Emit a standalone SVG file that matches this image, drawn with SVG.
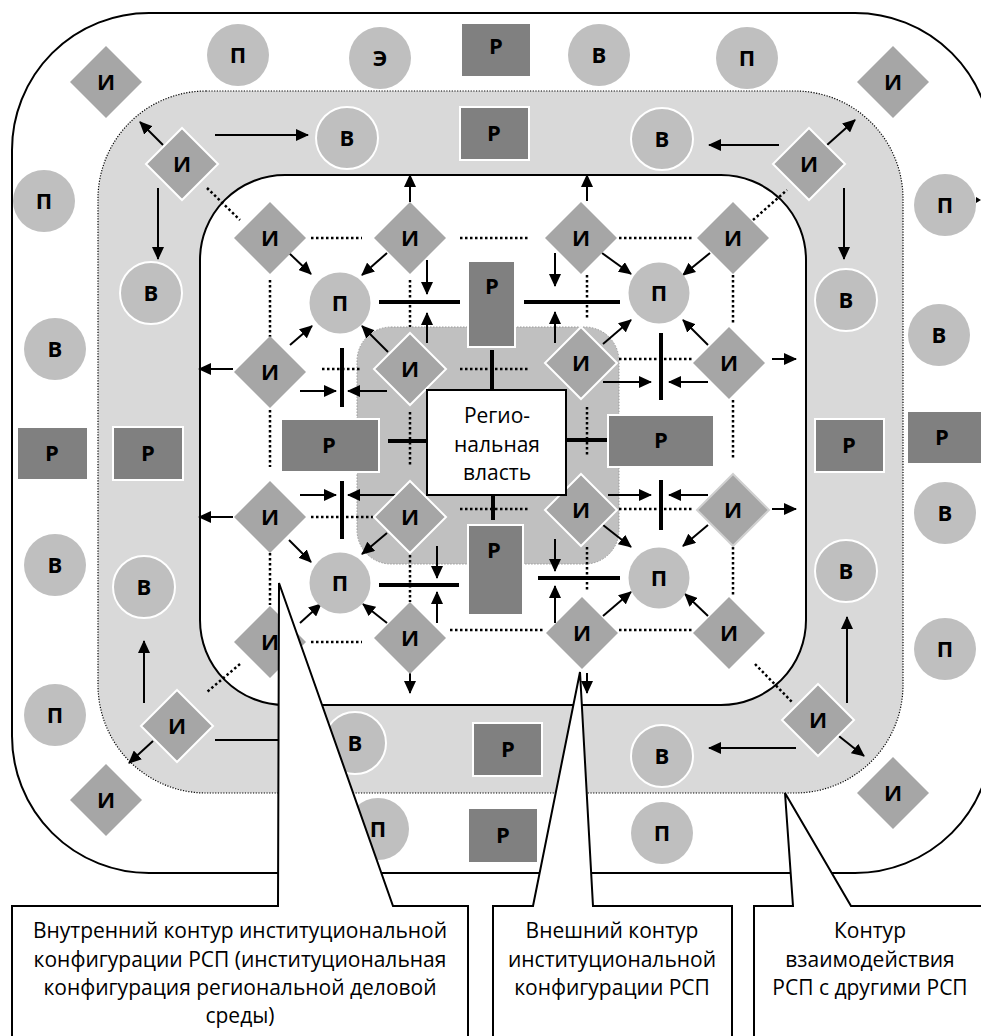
<svg xmlns="http://www.w3.org/2000/svg" xmlns:xlink="http://www.w3.org/1999/xlink" width="981" height="1036" viewBox="0 0 981 1036">
<defs>
<marker id="ah" markerUnits="userSpaceOnUse" markerWidth="13" markerHeight="12" refX="12" refY="6" orient="auto">
<path d="M0,0 L13,6 L0,12 Z" fill="#000"/>
</marker>
<path id="dm" d="M0,-36 L36,0 L0,36 L-36,0 Z"/>
<style>
.dia{fill:#a6a6a6}
.diaw{fill:#a6a6a6;stroke:#fff;stroke-width:2}
.dial{fill:#a6a6a6;stroke:#d0d0d0;stroke-width:2}
.cir{fill:#bfbfbf}
.cirw{fill:#bfbfbf;stroke:#fff;stroke-width:2}
.rec{fill:#808080}
.recw{fill:#808080;stroke:#fff;stroke-width:2}
.lbl{font-family:"Open Sans","DejaVu Sans",sans-serif;font-weight:bold;font-size:22px;text-anchor:middle;fill:#000}
.txt{font-family:"Open Sans","DejaVu Sans",sans-serif;font-size:21px;text-anchor:middle;fill:#000}
.arr line{stroke:#000;stroke-width:2;marker-end:url(#ah)}
.bar line{stroke:#000;stroke-width:4}
.dot line{stroke:#000;stroke-width:2.5;stroke-dasharray:2.5 2.5}
.call{fill:#fff;stroke:#000;stroke-width:2}
</style>
</defs>
<rect width="981" height="1036" fill="#fff"/>
<!-- contours -->
<g id="contours">
<rect x="12" y="13" width="980" height="860" rx="137" fill="#fff" stroke="#000" stroke-width="2"/>
<rect x="98" y="91" width="805" height="702" rx="108" fill="#d9d9d9" stroke="#000" stroke-width="1.2" stroke-dasharray="1.2 1.5"/>
<rect x="200" y="175" width="606" height="530" rx="85" fill="#fff" stroke="#000" stroke-width="2"/>
<rect x="357" y="327" width="262" height="237" rx="34" fill="#c0c0c0" stroke="#9a9a9a" stroke-width="1" stroke-dasharray="1.5 1.5"/>
</g>
<!-- connectors -->
<g id="connectors">
<g class="dot">
<line x1="207" y1="188" x2="240" y2="220"/>
<line x1="753" y1="220" x2="787" y2="190"/>
<line x1="240" y1="664" x2="207" y2="692"/>
<line x1="755" y1="664" x2="793" y2="703"/>
<line x1="311" y1="238" x2="362" y2="238"/>
<line x1="460" y1="238" x2="530" y2="238"/>
<line x1="619" y1="238" x2="692" y2="238"/>
<line x1="322" y1="369" x2="360" y2="369"/>
<line x1="460" y1="369" x2="530" y2="369"/>
<line x1="619" y1="359" x2="692" y2="359"/>
<line x1="311" y1="517" x2="373" y2="517"/>
<line x1="460" y1="509" x2="530" y2="509"/>
<line x1="619" y1="509" x2="692" y2="509"/>
<line x1="311" y1="642" x2="362" y2="642"/>
<line x1="450" y1="630" x2="543" y2="630"/>
<line x1="619" y1="630" x2="692" y2="630"/>
<line x1="270" y1="280" x2="270" y2="337"/>
<line x1="270" y1="410" x2="270" y2="467"/>
<line x1="270" y1="553" x2="270" y2="605"/>
<line x1="410" y1="280" x2="410" y2="327"/>
<line x1="410" y1="412" x2="410" y2="467"/>
<line x1="410" y1="555" x2="410" y2="602"/>
<line x1="587" y1="275" x2="587" y2="320"/>
<line x1="587" y1="407" x2="587" y2="457"/>
<line x1="587" y1="547" x2="587" y2="592"/>
<line x1="733" y1="275" x2="733" y2="325"/>
<line x1="733" y1="400" x2="733" y2="460"/>
<line x1="733" y1="547" x2="733" y2="597"/>
</g>
<g class="bar">
<line x1="379" y1="302" x2="460" y2="302"/>
<line x1="342" y1="348" x2="342" y2="407"/>
<line x1="524" y1="302" x2="620" y2="302"/>
<line x1="661" y1="333" x2="661" y2="400"/>
<line x1="342" y1="481" x2="342" y2="539"/>
<line x1="379" y1="585" x2="459" y2="585"/>
<line x1="661" y1="480" x2="661" y2="530"/>
<line x1="538" y1="578" x2="620" y2="578"/>
<line x1="492" y1="350" x2="492" y2="390"/>
<line x1="388" y1="441" x2="427" y2="441"/>
<line x1="566" y1="440" x2="608" y2="440"/>
<line x1="493" y1="495" x2="493" y2="520"/>
</g>
<g class="arr">
<line x1="163" y1="145" x2="140" y2="122"/>
<line x1="215" y1="135" x2="308" y2="135"/>
<line x1="158" y1="188" x2="158" y2="259"/>
<line x1="779" y1="145" x2="709" y2="145"/>
<line x1="827" y1="145" x2="855" y2="120"/>
<line x1="844" y1="188" x2="844" y2="259"/>
<line x1="144" y1="703" x2="144" y2="641"/>
<line x1="153" y1="741" x2="129" y2="763"/>
<line x1="215" y1="740" x2="318" y2="740"/>
<line x1="796" y1="748" x2="709" y2="748"/>
<line x1="835" y1="733" x2="864" y2="756"/>
<line x1="847" y1="703" x2="847" y2="617"/>
<line x1="289" y1="253" x2="311" y2="274"/>
<line x1="387" y1="253" x2="362" y2="275"/>
<line x1="427" y1="260" x2="427" y2="294"/>
<line x1="427" y1="343" x2="427" y2="313"/>
<line x1="410" y1="202" x2="410" y2="175"/>
<line x1="233" y1="369" x2="199" y2="369"/>
<line x1="290" y1="345" x2="312" y2="326"/>
<line x1="388" y1="352" x2="362" y2="326"/>
<line x1="300" y1="391" x2="336" y2="391"/>
<line x1="387" y1="391" x2="348" y2="391"/>
<line x1="587" y1="201" x2="587" y2="175"/>
<line x1="555" y1="253" x2="555" y2="286"/>
<line x1="555" y1="343" x2="555" y2="312"/>
<line x1="602" y1="253" x2="631" y2="274"/>
<line x1="710" y1="253" x2="683" y2="275"/>
<line x1="603" y1="344" x2="631" y2="320"/>
<line x1="708" y1="345" x2="683" y2="320"/>
<line x1="772" y1="359" x2="796" y2="359"/>
<line x1="603" y1="382" x2="651" y2="382"/>
<line x1="708" y1="382" x2="669" y2="382"/>
<line x1="233" y1="517" x2="199" y2="517"/>
<line x1="289" y1="540" x2="311" y2="562"/>
<line x1="387" y1="533" x2="362" y2="554"/>
<line x1="300" y1="495" x2="336" y2="495"/>
<line x1="397" y1="495" x2="348" y2="495"/>
<line x1="300" y1="623" x2="321" y2="604"/>
<line x1="387" y1="623" x2="363" y2="604"/>
<line x1="410" y1="672" x2="410" y2="693"/>
<line x1="437" y1="546" x2="437" y2="578"/>
<line x1="437" y1="623" x2="437" y2="592"/>
<line x1="608" y1="495" x2="651" y2="495"/>
<line x1="708" y1="495" x2="669" y2="495"/>
<line x1="772" y1="509" x2="796" y2="509"/>
<line x1="603" y1="525" x2="631" y2="547"/>
<line x1="708" y1="525" x2="683" y2="546"/>
<line x1="555" y1="539" x2="555" y2="571"/>
<line x1="555" y1="623" x2="555" y2="586"/>
<line x1="603" y1="616" x2="631" y2="592"/>
<line x1="708" y1="616" x2="685" y2="594"/>
<line x1="587" y1="673" x2="587" y2="693"/>
</g>
<polygon points="976,197 981,200 976,203" fill="#000"/>
</g>
<!-- outer ring nodes -->
<g id="o_i1"><use xlink:href="#dm" x="106" y="82" class="dia"/><text x="106" y="90" class="lbl">И</text></g>
<g id="o_p1"><circle cx="238" cy="55" r="31" class="cir"/><text x="238" y="63" class="lbl">П</text></g>
<g id="o_e"><circle cx="380" cy="58" r="31" class="cir"/><text x="380" y="66" class="lbl">Э</text></g>
<g id="o_r1"><rect x="462" y="24" width="68" height="52" class="rec"/><text x="496" y="54" class="lbl">Р</text></g>
<g id="o_v1"><circle cx="599" cy="55" r="31" class="cir"/><text x="599" y="63" class="lbl">В</text></g>
<g id="o_p2"><circle cx="747" cy="58" r="31" class="cir"/><text x="747" y="66" class="lbl">П</text></g>
<g id="o_i2"><use xlink:href="#dm" x="893" y="82" class="dia"/><text x="893" y="90" class="lbl">И</text></g>
<g id="o_p3"><circle cx="44" cy="201" r="31" class="cir"/><text x="44" y="209" class="lbl">П</text></g>
<g id="o_p4"><circle cx="945" cy="205" r="31" class="cir"/><text x="945" y="213" class="lbl">П</text></g>
<g id="o_v2"><circle cx="55" cy="349" r="31" class="cir"/><text x="55" y="357" class="lbl">В</text></g>
<g id="o_v3"><circle cx="939" cy="335" r="31" class="cir"/><text x="939" y="343" class="lbl">В</text></g>
<g id="o_r2"><rect x="18" y="428" width="69" height="51" class="rec"/><text x="52" y="461" class="lbl">Р</text></g>
<g id="o_r3"><rect x="908" y="412" width="75" height="51" class="rec"/><text x="942" y="445" class="lbl">Р</text></g>
<g id="o_v4"><circle cx="55" cy="565" r="31" class="cir"/><text x="55" y="573" class="lbl">В</text></g>
<g id="o_v5"><circle cx="945" cy="513" r="31" class="cir"/><text x="945" y="521" class="lbl">В</text></g>
<g id="o_p5"><circle cx="55" cy="715" r="31" class="cir"/><text x="55" y="723" class="lbl">П</text></g>
<g id="o_p6"><circle cx="945" cy="649" r="31" class="cir"/><text x="945" y="657" class="lbl">П</text></g>
<g id="o_i3"><use xlink:href="#dm" x="106" y="800" class="dia"/><text x="106" y="808" class="lbl">И</text></g>
<g id="o_i4"><use xlink:href="#dm" x="893" y="793" class="dia"/><text x="893" y="801" class="lbl">И</text></g>
<g id="o_p7"><circle cx="378" cy="829" r="31" class="cir"/><text x="378" y="837" class="lbl">П</text></g>
<g id="o_r4"><rect x="469" y="809" width="68" height="53" class="rec"/><text x="503" y="843" class="lbl">Р</text></g>
<g id="o_p8"><circle cx="662" cy="833" r="31" class="cir"/><text x="662" y="841" class="lbl">П</text></g>
<!-- band nodes -->
<g id="b_i1"><use xlink:href="#dm" x="182" y="164" class="diaw"/><text x="182" y="172" class="lbl">И</text></g>
<g id="b_v1"><circle cx="347" cy="138" r="31" class="cirw"/><text x="347" y="146" class="lbl">В</text></g>
<g id="b_r1"><rect x="460" y="107" width="69" height="53" class="recw"/><text x="494" y="141" class="lbl">Р</text></g>
<g id="b_v2"><circle cx="662" cy="139" r="31" class="cirw"/><text x="662" y="147" class="lbl">В</text></g>
<g id="b_i2"><use xlink:href="#dm" x="809" y="164" class="diaw"/><text x="809" y="172" class="lbl">И</text></g>
<g id="b_v3"><circle cx="151" cy="293" r="31" class="cirw"/><text x="151" y="301" class="lbl">В</text></g>
<g id="b_v4"><circle cx="846" cy="300" r="31" class="cirw"/><text x="846" y="308" class="lbl">В</text></g>
<g id="b_r2"><rect x="113" y="427" width="70" height="53" class="recw"/><text x="148" y="461" class="lbl">Р</text></g>
<g id="b_r3"><rect x="815" y="419" width="69" height="53" class="recw"/><text x="849" y="453" class="lbl">Р</text></g>
<g id="b_v5"><circle cx="144" cy="587" r="31" class="cirw"/><text x="144" y="595" class="lbl">В</text></g>
<g id="b_v6"><circle cx="846" cy="571" r="31" class="cirw"/><text x="846" y="579" class="lbl">В</text></g>
<g id="b_i3"><use xlink:href="#dm" x="177" y="726" class="diaw"/><text x="177" y="734" class="lbl">И</text></g>
<g id="b_v7"><circle cx="355" cy="743" r="31" class="cirw"/><text x="355" y="751" class="lbl">В</text></g>
<g id="b_r4"><rect x="473" y="723" width="69" height="53" class="recw"/><text x="508" y="757" class="lbl">Р</text></g>
<g id="b_v8"><circle cx="662" cy="756" r="31" class="cirw"/><text x="662" y="764" class="lbl">В</text></g>
<g id="b_i4"><use xlink:href="#dm" x="818" y="720" class="diaw"/><text x="818" y="728" class="lbl">И</text></g>
<!-- inner nodes -->
<g id="i_i1"><use xlink:href="#dm" x="270" y="238" class="dia"/><text x="270" y="246" class="lbl">И</text></g>
<g id="i_i2"><use xlink:href="#dm" x="410" y="238" class="dia"/><text x="410" y="246" class="lbl">И</text></g>
<g id="i_i3"><use xlink:href="#dm" x="581" y="238" class="dia"/><text x="581" y="246" class="lbl">И</text></g>
<g id="i_i4"><use xlink:href="#dm" x="733" y="238" class="dia"/><text x="733" y="246" class="lbl">И</text></g>
<g id="i_i5"><use xlink:href="#dm" x="270" y="372" class="dia"/><text x="270" y="380" class="lbl">И</text></g>
<g id="i_i6"><use xlink:href="#dm" x="410" y="369" class="diaw"/><text x="410" y="377" class="lbl">И</text></g>
<g id="i_i7"><use xlink:href="#dm" x="581" y="363" class="diaw"/><text x="581" y="371" class="lbl">И</text></g>
<g id="i_i8"><use xlink:href="#dm" x="729" y="363" class="dia"/><text x="729" y="371" class="lbl">И</text></g>
<g id="i_i9"><use xlink:href="#dm" x="270" y="517" class="dia"/><text x="270" y="525" class="lbl">И</text></g>
<g id="i_i10"><use xlink:href="#dm" x="410" y="517" class="diaw"/><text x="410" y="525" class="lbl">И</text></g>
<g id="i_i11"><use xlink:href="#dm" x="581" y="510" class="diaw"/><text x="581" y="518" class="lbl">И</text></g>
<g id="i_i12"><use xlink:href="#dm" x="733" y="510" class="dial"/><text x="733" y="518" class="lbl">И</text></g>
<g id="i_i13"><use xlink:href="#dm" x="270" y="642" class="dia"/><text x="270" y="650" class="lbl">И</text></g>
<g id="i_i14"><use xlink:href="#dm" x="410" y="638" class="dia"/><text x="410" y="646" class="lbl">И</text></g>
<g id="i_i15"><use xlink:href="#dm" x="582" y="633" class="dia"/><text x="582" y="641" class="lbl">И</text></g>
<g id="i_i16"><use xlink:href="#dm" x="729" y="633" class="dia"/><text x="729" y="641" class="lbl">И</text></g>
<g id="i_p1"><circle cx="340" cy="303" r="30.5" class="cir"/><text x="340" y="311" class="lbl">П</text></g>
<g id="i_p2"><circle cx="659" cy="293" r="30.5" class="cir"/><text x="659" y="301" class="lbl">П</text></g>
<g id="i_p3"><circle cx="340" cy="583" r="30.5" class="cir"/><text x="340" y="591" class="lbl">П</text></g>
<g id="i_p4"><circle cx="659" cy="578" r="30.5" class="cir"/><text x="659" y="586" class="lbl">П</text></g>
<g id="c_r1"><rect x="468" y="261" width="47" height="86" class="recw"/><text x="492" y="294" class="lbl">Р</text></g>
<g id="c_r2"><rect x="281" y="419" width="98" height="53" class="recw"/><text x="329" y="453" class="lbl">Р</text></g>
<g id="c_r3"><rect x="608" y="415" width="106" height="52" class="recw"/><text x="661" y="448" class="lbl">Р</text></g>
<g id="c_r4"><rect x="468" y="525" width="55" height="90" class="recw"/><text x="494" y="558" class="lbl">Р</text></g>
<g id="center"><rect x="427" y="390" width="139" height="105" fill="#fff" stroke="#000" stroke-width="2"/>
<text class="txt"><tspan x="497" y="423">Регио-</tspan><tspan x="497" y="452">нальная</tspan><tspan x="497" y="480">власть</tspan></text></g>
<!-- callouts -->
<g id="callout1"><polygon class="call" points="12,906 278,906 279,583 393,906 468,906 468,1040 12,1040"/>
<text class="txt"><tspan x="240" y="938">Внутренний контур институциональной</tspan><tspan x="240" y="967">конфигурации РСП (институциональная</tspan><tspan x="240" y="995">конфигурация региональной деловой</tspan><tspan x="240" y="1023">среды)</tspan></text></g>
<g id="callout2"><polygon class="call" points="493,906 533,906 580,672 593,906 732,906 732,1040 493,1040"/>
<text class="txt"><tspan x="612" y="938">Внешний контур</tspan><tspan x="612" y="967">институциональной</tspan><tspan x="612" y="995">конфигурации РСП</tspan></text></g>
<g id="callout3"><polygon class="call" points="754,906 793,906 785,793 851,906 992,906 992,1040 754,1040"/>
<text class="txt"><tspan x="870" y="938">Контур</tspan><tspan x="870" y="967">взаимодействия</tspan><tspan x="870" y="995">РСП с другими РСП</tspan></text></g>
</svg>
